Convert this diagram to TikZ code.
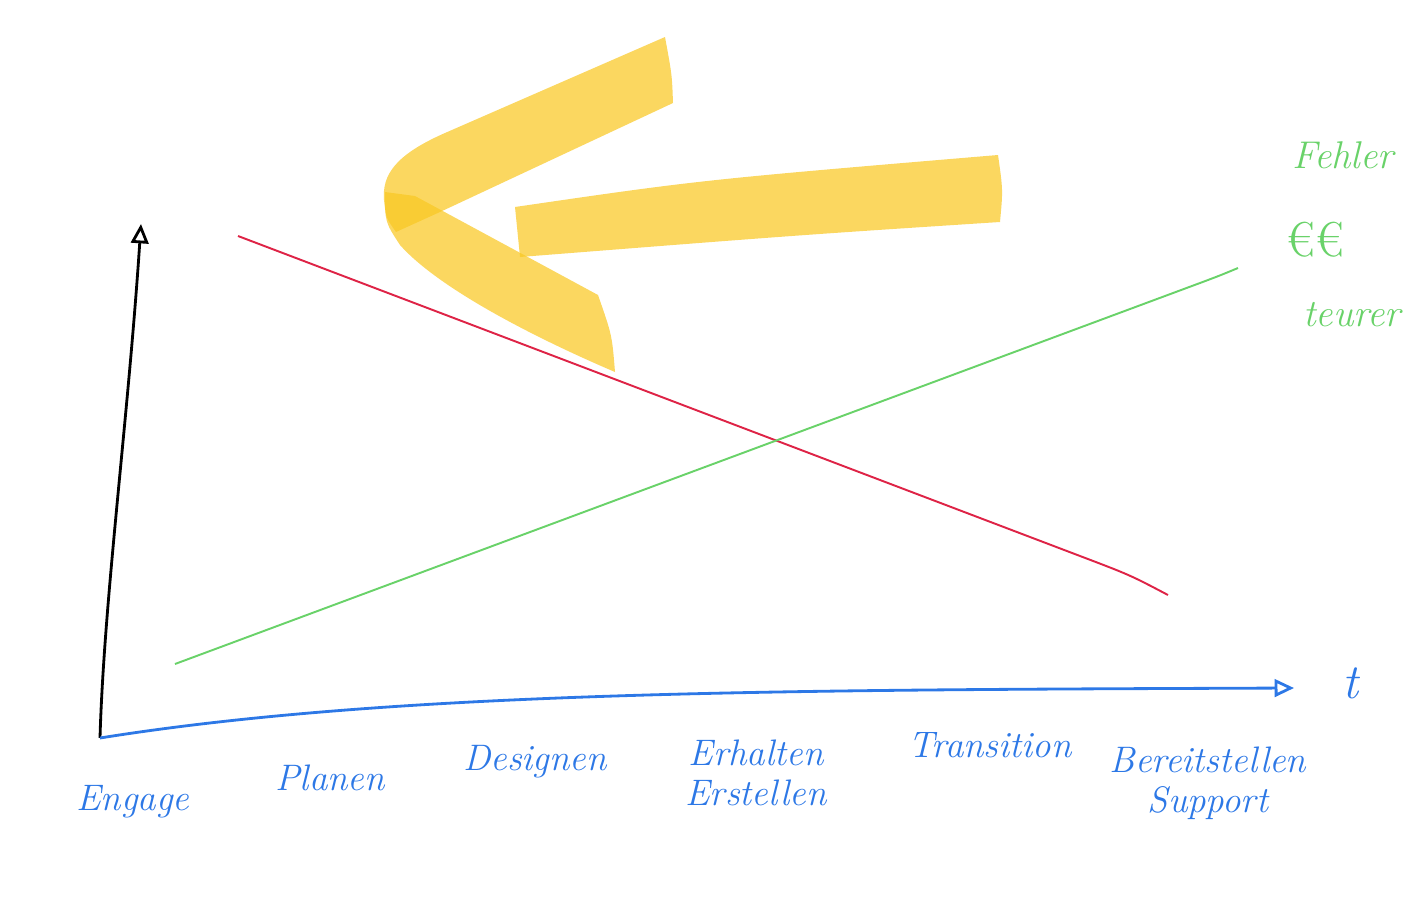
\documentclass[tikz,border=0pt]{standalone}
\usepackage{tikz}
\usetikzlibrary{arrows.meta,calc}
\definecolor{penblue}{RGB}{45,120,230}
\definecolor{penred}{RGB}{222,35,70}
\definecolor{pengreen}{RGB}{105,210,105}
\definecolor{marker}{RGB}{249,200,35}
\tikzset{phase/.style={text=penblue, font=\fontsize{21}{23}\selectfont\itshape, align=center}}

\begin{document}
\begin{tikzpicture}[x=0.02cm, y=-0.02cm]
\tikzstyle{axis} = [line width=1.6pt, -{Triangle[open, length=11pt, width=10pt]}]
\tikzstyle{curve} = [line width=1.1pt]
\tikzstyle{highlight} = [fill=marker, fill opacity=0.72, draw=none]
\tikzstyle{note} = [text=pengreen, font=\fontsize{22}{24}\selectfont\itshape]

\useasboundingbox (0,0) rectangle (1421,916);

\coordinate (origin) at (100,738);
\coordinate (ytop) at (141,224);
\coordinate (xend) at (1294,688);

% marker arrow
\fill[highlight] (665,37) -- (445,133) .. controls (395,155) and (382,175) .. (384,200)
  .. controls (386,218) .. (396,232) -- (440,212) -- (673,103)
  .. controls (672,75) .. (665,37) -- cycle;
\fill[highlight] (385,192) .. controls (385,222) .. (400,245)
  .. controls (440,290) and (540,340) .. (615,372)
  .. controls (612,335) .. (598,295) -- (415,196) -- cycle;
\fill[highlight] (515,207) .. controls (700,180) .. (998,155)
  .. controls (1003,190) .. (1000,222) .. controls (800,235) .. (520,257) -- cycle;

% axes
\draw [axis, black] (origin) .. controls (104,600) and (128,420) .. (ytop);
\draw [axis, penblue] (origin) .. controls (400,690) and (800,690) .. (xend);
\node (t) at (1350,683) [text=penblue, font=\fontsize{28}{30}\selectfont\itshape] {t};

% cost lines
\coordinate (redA) at (238,236);
\coordinate (redB) at (1168,595);
\draw [curve, penred] (redA) -- (1080,556) .. controls (1130,575) .. (redB);
\coordinate (greenA) at (175,664);
\coordinate (greenB) at (1238,268);
\draw [curve, pengreen] (greenA) -- (1200,283) .. controls (1220,275.5) .. (greenB);

% phases
\node (engage) [phase] at (133,802) {Engage};
\node (planen) [phase] at (330,778) {Planen};
\node (design) [phase] at (535,762) {Designen};
\node (build) [phase] at (756,773) {Erhalten\\Erstellen};
\node (trans) [phase] at (990,745) {Transition};
\node (deploy) [phase] at (1208,783) {Bereitstellen\\Support};

% note
\node (fehler) [note] at (1343,155) {Fehler};
\node (euro) [note, font=\fontsize{28}{30}\selectfont] at (1315,240) {€€};
\node (teurer) [note] at (1352,315) {teurer};

\end{tikzpicture}
\end{document}
